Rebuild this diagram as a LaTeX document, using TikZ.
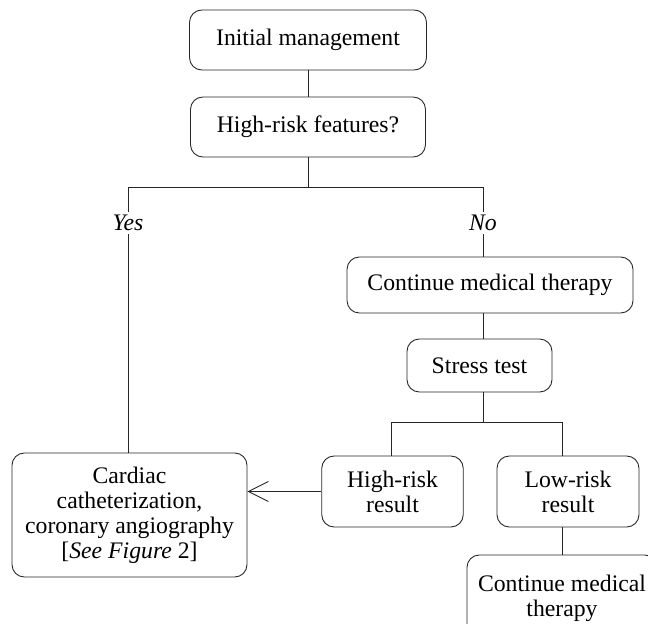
\documentclass[tikz,border=0pt]{standalone}
\usepackage{fontspec}
\setmainfont{Liberation Serif}
\usetikzlibrary{arrows.meta}
\tikzset{
  box/.style={draw, rounded corners=7pt, align=center, inner sep=2pt},
  branch/.style={fill=white, inner sep=1.5pt},
}

\begin{document}
\begin{tikzpicture}[x=0.02cm, y=-0.02cm, line width=0.5pt, draw=black!85,
    font=\fontsize{13.5}{14.2}\selectfont]
      \useasboundingbox (0,0) rectangle (648,624);
      \path
      (308,40) node[box, minimum width=4.74cm, minimum height=1.2cm](init) {Initial management}
      (308,127) node[box, minimum width=4.7cm, minimum height=1.2cm](risk) {High-risk features?}
      (490,285) node[box, minimum width=5.72cm, minimum height=1.12cm](cont) {Continue medical therapy}
      (479.5,365.5) node[box, minimum width=2.9cm, minimum height=1.06cm](stress) {Stress test}
      (392.5,491.5) node[box, minimum width=2.83cm, minimum height=1.42cm](hires) {High-risk\\result}
      (568,491.5) node[box, minimum width=2.84cm, minimum height=1.42cm](lores) {Low-risk\\result}
      (129.5,515) node[box, minimum width=4.7cm, minimum height=2.48cm](cath)
        {Cardiac\\catheterization,\\coronary angiography\\{[}\textit{See Figure} 2{]}}
      (562,598) node[box, minimum width=3.8cm, minimum height=1.72cm](cont2) {Continue medical\\therapy}
      ;
      \coordinate (yes) at (128,187);
      \coordinate (no) at (483,187);
      \coordinate (mid) at (483,422);
      \coordinate (hi) at (391,422);
      \coordinate (lo) at (562,422);

      \draw (init) -- (risk);
      \draw (risk.south) -- (risk.south |- no);
      \draw (cath.north -| yes) -- (yes) -- (no) -- (cont.north -| no);
      \draw (cont.south -| no) -- (stress.north -| no);
      \draw (stress.south -| mid) -- (mid);
      \draw (hires.north -| hi) -- (hi) -- (lo) -- (lores.north -| lo);
      \draw (lores.south -| lo) -- (cont2.north -| lo);
      \draw[-{Straight Barb[length=4mm,width=4mm]}] (hires.west) -- (cath.east |- hires.west);

      \path
      (128,223) node[branch](yeslabel) {\itshape Yes}
      (483,223) node[branch](nolabel) {\itshape No}
      ;
\end{tikzpicture}
\end{document}
